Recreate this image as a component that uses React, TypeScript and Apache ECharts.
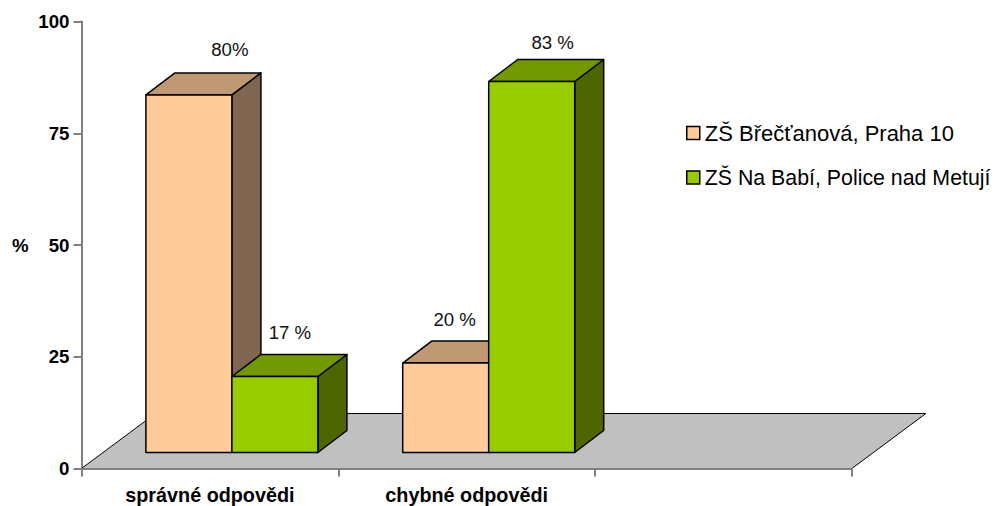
import React, { useEffect, useRef } from "react";
import * as echarts from "echarts";

const categories = ["správné odpovědi", "chybné odpovědi", ""];
const seriesNames = ["ZŠ Břečťanová, Praha 10", "ZŠ Na Babí, Police nad Metují"];
const brecValues = [80, 20];
const babiValues = [17, 83];
const brecLabels = ["80%", "20 %"];
const babiLabels = ["17 %", "83 %"];
const yTicks = { min: 0, max: 100, interval: 25 };

const FRONT = ["#FFCC99", "#99CC00"];
const TOP = ["#BF9973", "#739900"];
const SIDE = ["#806650", "#4D6600"];
const BAR_W = 86;
const SHIFT = [22, -16];
const DEPTH = [29, -22];
const FLOOR_DEPTH = [74, -55];
const EDGE = "#000";
const LEGEND_FONT_SIZES = [22, 21.33];
// hand-placed data labels of the original: offset from the front-face centre / back top edge
const brecLabelOffsets = [[41, -23], [9, -22]];
const babiLabelOffsets = [[15, -22], [21, -17]];

function barSeries(i: number, values: number[], labels: string[], offsets: number[][]) {
  return {
    type: "custom",
    name: seriesNames[i],
    coordinateSystem: "cartesian2d",
    z: 3 + i,
    clip: false,
    itemStyle: { color: FRONT[i], borderColor: "#000", borderWidth: 1 },
    data: values.map((v, k) => [k, v, labels[k]]),
    renderItem(params: any, api: any) {
      const base = api.coord([api.value(0), 0]);
      const top = api.coord([api.value(0), api.value(1)]);
      const x0 = base[0] + SHIFT[0] + (i === 0 ? -BAR_W : 0);
      const x1 = x0 + BAR_W;
      const y0 = base[1] + SHIFT[1];
      const y1 = top[1] + SHIFT[1];
      const [dx, dy] = DEPTH;
      const off = offsets[params.dataIndex];
      const st = (fill: string) => ({ fill, stroke: EDGE, lineWidth: 1.5, lineJoin: "round" });
      return {
        type: "group",
        children: [
          { type: "polygon", shape: { points: [[x1, y1], [x1 + dx, y1 + dy], [x1 + dx, y0 + dy], [x1, y0]] }, style: st(SIDE[i]) },
          { type: "polygon", shape: { points: [[x0, y1], [x0 + dx, y1 + dy], [x1 + dx, y1 + dy], [x1, y1]] }, style: st(TOP[i]) },
          { type: "rect", shape: { x: x0, y: y1, width: BAR_W, height: y0 - y1 }, style: st(FRONT[i]) },
          {
            type: "text",
            x: (x0 + x1) / 2 + off[0],
            y: y1 + dy + off[1],
            style: { text: String(api.value(2)), fill: "#111", font: "18.67px 'Liberation Sans'", align: "center", verticalAlign: "middle" },
          },
        ],
      };
    },
  };
}

const floorSeries = {
  type: "custom",
  coordinateSystem: "cartesian2d",
  silent: true,
  z: 1,
  clip: false,
  data: [[0, 0]],
  renderItem(_: any, api: any) {
    const a = api.coord([0, 0]);
    const band = api.size([1, 0])[0];
    const x0 = a[0] - band / 2;
    const x1 = x0 + band * categories.length;
    const y = a[1];
    const [dx, dy] = FLOOR_DEPTH;
    return {
      type: "polygon",
      shape: { points: [[x0, y], [x1, y], [x1 + dx, y + dy], [x0 + dx, y + dy]] },
      style: { fill: "#C0C0C0", stroke: "#000", lineWidth: 1 },
    };
  },
};

export default function App() {
  const ref = useRef<HTMLDivElement>(null);
  useEffect(() => {
    const chart = echarts.init(ref.current!, undefined, { renderer: "svg" });
    chart.setOption({
      animation: false,
      grid: { left: 81.5, top: 21.5, width: 770.4, height: 447, containLabel: false },
      legend: {
        orient: "vertical",
        left: 686,
        top: 122,
        padding: 0,
        icon: "rect",
        itemWidth: 13,
        itemHeight: 13,
        itemGap: 23,
        data: seriesNames.map((n, i) => ({
          name: n,
          itemStyle: { color: FRONT[i], borderColor: "#000", borderWidth: 1.5 },
          textStyle: { color: "#000", fontFamily: "Liberation Sans", fontSize: LEGEND_FONT_SIZES[i] },
        })),
        selectedMode: false,
      },
      xAxis: {
        type: "category",
        z: 5,
        data: categories,
        axisLine: { lineStyle: { color: "#808080", width: 2 } },
        axisTick: { show: true, length: 8, lineStyle: { color: "#808080", width: 2 }, alignWithLabel: false },
        axisLabel: { color: "#000", fontFamily: "Liberation Sans", fontWeight: "bold", fontSize: 19.8, margin: 16 },
        splitLine: { show: false },
      },
      yAxis: {
        type: "value",
        ...yTicks,
        name: "%",
        nameLocation: "middle",
        nameRotate: 0,
        nameGap: 53,
        nameTextStyle: { color: "#000", fontFamily: "Liberation Sans", fontWeight: "bold", fontSize: 18.67 },
        axisLine: { show: true, lineStyle: { color: "#808080", width: 2 } },
        axisTick: { show: true, length: 8, lineStyle: { color: "#808080", width: 2 } },
        axisLabel: { color: "#000", fontFamily: "Liberation Sans", fontWeight: "bold", fontSize: 18.67, margin: 12 },
        splitLine: { show: false },
      },
      series: [floorSeries, barSeries(0, brecValues, brecLabels, brecLabelOffsets), barSeries(1, babiValues, babiLabels, babiLabelOffsets)],
    });
    return () => chart.dispose();
  }, []);
  return <div ref={ref} style={{ position: "absolute", left: 0, top: 0, width: 1007, height: 506 }} />;
}
